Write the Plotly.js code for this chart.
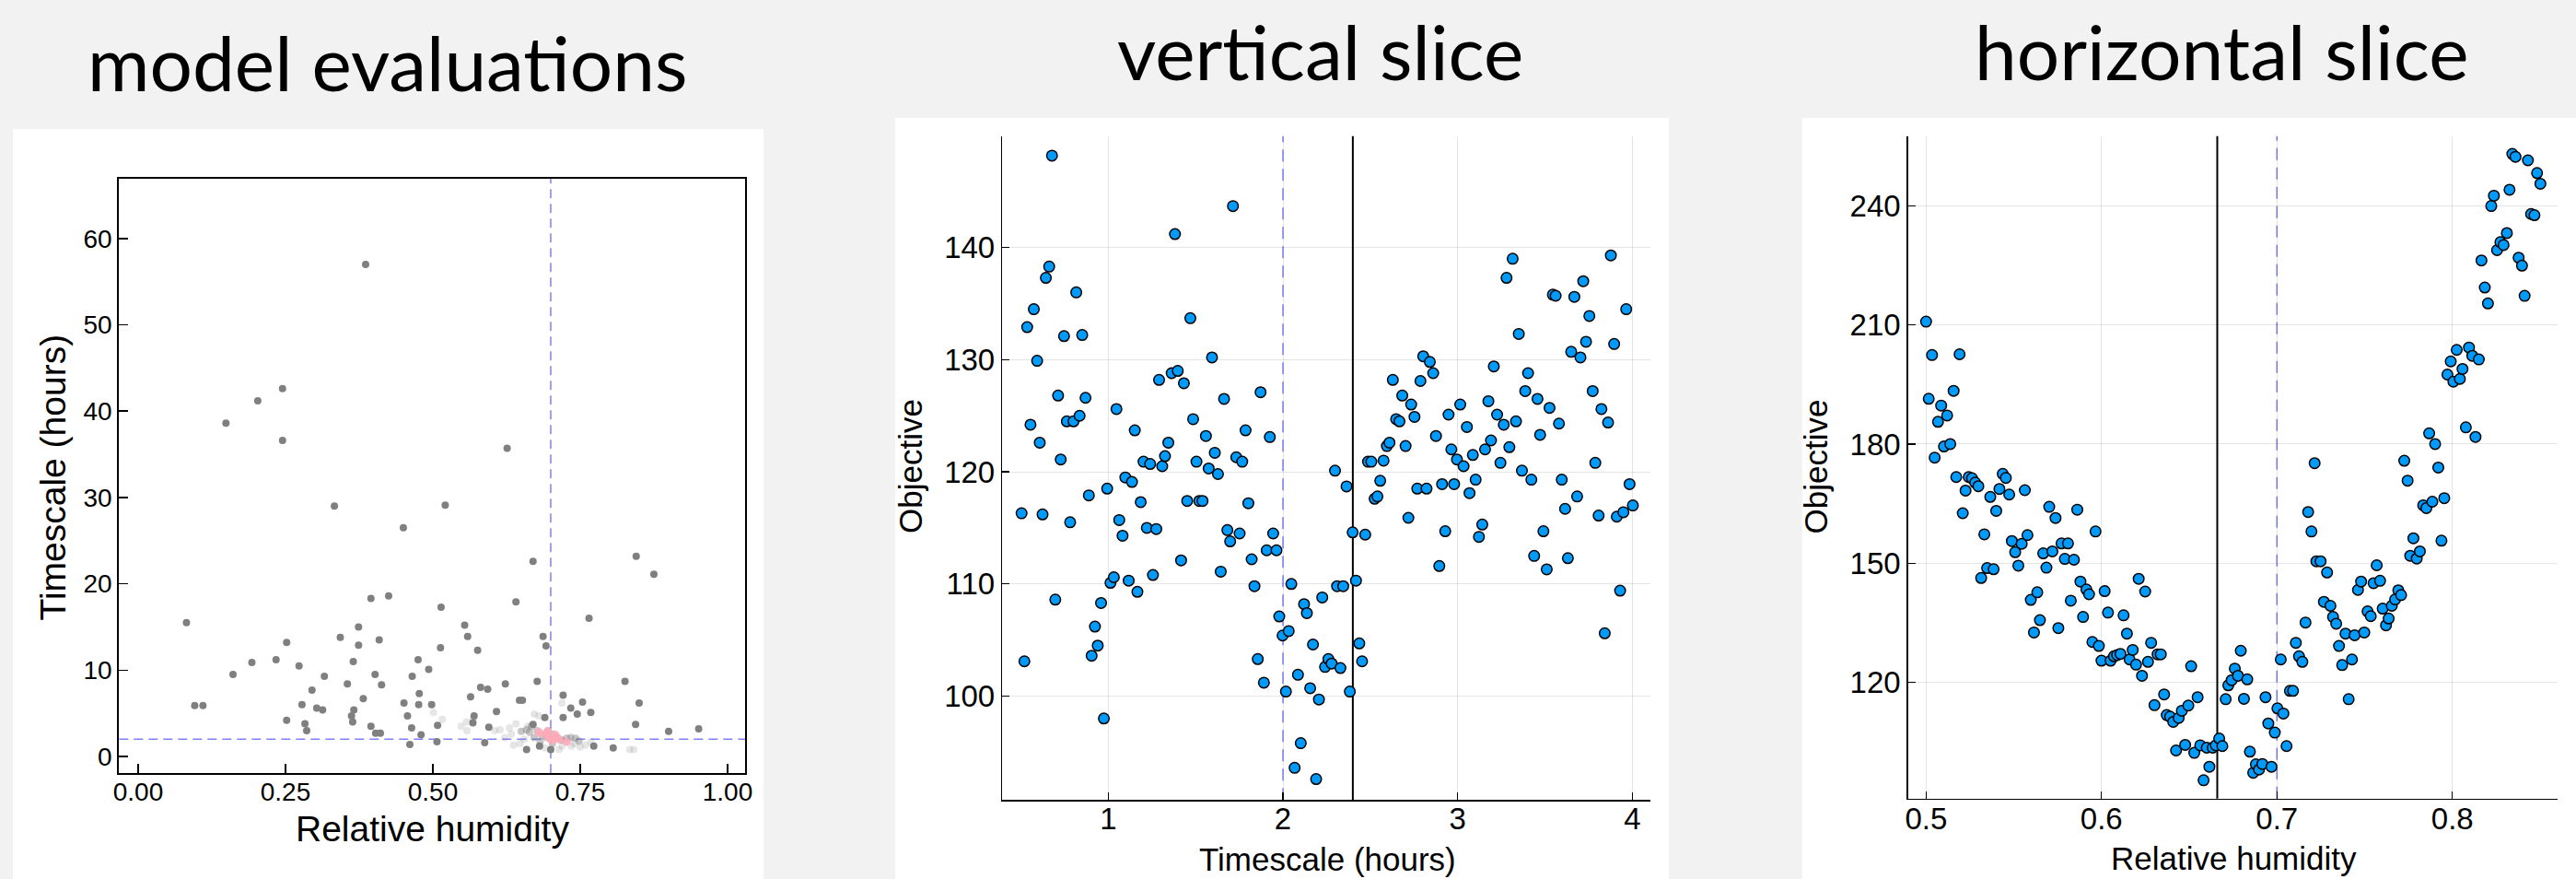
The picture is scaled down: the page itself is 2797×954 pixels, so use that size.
<!DOCTYPE html>
<html>
<head>
<meta charset="utf-8">
<script src="https://cdn.plot.ly/plotly-3.0.1.min.js"></script>
<style>html,body{margin:0;padding:0;background:#f2f2f2;}#chart{width:2797px;height:954px;}</style>
</head>
<body>
<div id="chart"></div>
<script>
// ---------- DATA ----------
// Panel 1: model evaluations (Relative humidity vs Timescale)
const evalHumidity = [0.386,0.245,0.203,0.149,0.245,0.626,0.333,0.521,0.450,0.670,0.845,0.875,0.395,0.425,0.641,0.514,0.082,0.765,0.554,0.374,0.343,0.559,0.409,0.252,0.687,0.374,0.692,0.513,0.576,0.193,0.234,0.365,0.475,0.273,0.493,0.161,0.402,0.316,0.465,0.677,0.826,0.355,0.413,0.623,0.581,0.593,0.295,0.477,0.721,0.564,0.382,0.647,0.652,0.754,0.850,0.451,0.278,0.476,0.498,0.096,0.110,0.303,0.313,0.366,0.734,0.608,0.768,0.745,0.362,0.457,0.570,0.690,0.721,0.252,0.364,0.283,0.568,0.844,0.670,0.508,0.395,0.464,0.595,0.951,0.286,0.900,0.403,0.411,0.480,0.507,0.588,0.461,0.659,0.773,0.806,0.681,0.700];
const evalTimescale = [57.0,42.6,41.2,38.6,36.6,35.7,29.0,29.1,26.5,22.6,23.2,21.1,18.3,18.6,17.9,17.3,15.5,16.0,15.2,15.0,13.8,13.9,13.5,13.2,13.9,12.9,12.8,12.6,12.3,10.9,11.2,11.0,11.2,10.5,10.1,9.5,9.5,9.3,9.3,8.7,8.7,8.4,8.3,8.4,8.0,7.8,7.7,7.3,7.1,6.9,6.7,6.5,6.5,6.3,6.2,6.2,6.0,6.0,6.0,5.9,5.9,5.6,5.4,5.4,5.6,5.2,5.1,4.9,4.7,4.7,4.7,4.5,4.5,4.2,4.0,3.8,3.9,3.7,3.7,3.6,3.5,3.3,3.4,3.2,3.0,2.9,2.7,2.7,2.5,1.7,1.6,1.4,0.8,1.2,1.0,1.2,0.8];
// faint (light) evaluations
const faintHumidity = [0.501,0.516,0.548,0.558,0.557,0.568,0.614,0.630,0.641,0.633,0.637,0.648,0.672,0.680,0.661,0.719,0.740,0.750,0.759,0.768,0.834,0.841,0.719,0.714,0.622,0.690,0.735,0.655,0.605];
const faintTimescale = [5.1,4.3,3.5,3.0,4.0,4.3,3.1,3.3,3.8,2.6,1.3,1.5,4.9,4.7,3.5,6.2,1.5,1.1,1.3,1.7,0.8,0.8,1.2,0.8,2.2,1.0,1.2,2.0,3.0];
// clustered evaluations near the optimum
const clusterHumidity = [0.667,0.677,0.685,0.693,0.703,0.711,0.719,0.727,0.734,0.742,0.672,0.682,0.664,0.703,0.659,0.650,0.695,0.748];
const clusterTimescale = [3.5,3.0,2.4,2.2,2.6,2.2,1.9,2.1,2.2,2.1,2.2,1.7,2.8,1.5,3.1,2.9,3.0,1.8];
// latest evaluations (pink)
const latestHumidity = [0.680,0.690,0.698,0.708,0.714,0.703,0.727,0.695,0.700];
const latestTimescale = [2.8,2.6,2.2,2.5,2.0,1.9,1.7,2.9,2.0];
const optimumHumidity = 0.7;
const optimumTimescale = 2.0;

// Panel 2: vertical slice (Timescale vs Objective)
const vTimescale = [0.504,0.520,0.536,0.555,0.574,0.593,0.608,0.624,0.643,0.662,
0.678,0.697,0.713,0.728,0.747,0.763,0.782,0.801,0.817,0.836,
0.851,0.870,0.889,0.905,0.924,0.940,0.959,0.975,0.994,1.013,
1.032,1.047,1.063,1.082,1.098,1.117,1.136,1.152,1.167,1.186,
1.202,1.221,1.240,1.256,1.275,1.291,1.309,1.325,1.344,1.363,
1.382,1.398,1.417,1.433,1.452,1.470,1.486,1.505,1.521,1.540,
1.559,1.575,1.594,1.610,1.628,1.644,1.663,1.682,1.698,1.714,
1.733,1.752,1.767,1.786,1.802,1.821,1.837,1.856,1.872,1.891,
1.907,1.925,1.944,1.963,1.979,1.998,2.017,2.033,2.048,2.067,
2.086,2.102,2.121,2.137,2.156,2.172,2.190,2.206,2.225,2.241,
2.260,2.279,2.298,2.310,2.329,2.345,2.364,2.383,2.399,2.418,
2.437,2.453,2.471,2.487,2.506,2.525,2.541,2.557,2.576,2.595,
2.610,2.629,2.648,2.667,2.683,2.702,2.718,2.734,2.753,2.769,
2.787,2.803,2.822,2.841,2.860,2.876,2.895,2.911,2.929,2.948,
2.964,2.980,2.996,3.015,3.034,3.053,3.068,3.087,3.103,3.122,
3.141,3.157,3.176,3.191,3.207,3.226,3.245,3.264,3.280,3.296,
3.315,3.334,3.350,3.368,3.387,3.403,3.422,3.438,3.457,3.472,
3.491,3.510,3.526,3.545,3.561,3.580,3.596,3.615,3.631,3.650,
3.668,3.684,3.703,3.719,3.735,3.754,3.773,3.788,3.807,3.823,
3.842,3.861,3.877,3.896,3.911,3.930,3.949,3.965,3.984,4.003];
const vObjective = [116.3,103.1,132.9,124.2,134.5,129.9,122.6,116.2,137.3,138.3,
148.2,108.6,126.8,121.1,132.1,124.5,115.5,124.5,136.0,125.0,
132.2,126.6,117.9,103.6,106.2,104.5,108.3,98.0,118.5,110.1,
110.6,125.6,115.7,114.3,119.5,110.3,119.1,123.7,109.3,117.3,
120.9,115.0,120.7,110.8,114.9,128.2,120.5,121.4,122.6,128.8,
141.2,129.0,112.1,127.9,117.4,133.7,124.7,120.9,117.4,117.4,
123.2,120.3,130.2,121.7,119.8,111.1,126.5,114.8,113.8,143.7,
121.3,114.5,120.9,123.7,117.2,112.2,109.8,103.3,127.1,101.2,
113.0,123.1,114.5,113.0,107.1,105.4,100.4,105.8,110.0,93.6,
101.9,95.8,108.2,107.4,100.7,104.6,92.6,99.7,108.8,102.6,
103.3,102.9,120.1,109.8,102.5,109.8,118.7,100.4,114.6,110.3,
104.7,103.1,114.4,120.9,120.9,117.6,117.8,119.2,121.0,122.3,
122.6,128.2,124.7,124.5,126.8,122.3,115.9,126.0,124.9,118.5,
128.1,130.3,118.5,129.8,128.8,123.2,111.6,118.9,114.7,125.1,
122.0,118.9,121.1,126.0,120.5,124.0,118.1,121.5,119.3,114.2,
115.3,122.0,126.3,122.8,129.4,125.1,120.8,124.2,137.3,122.2,
139.0,124.5,132.3,120.1,127.2,128.8,119.3,112.5,126.5,123.3,
114.7,111.3,125.7,135.8,135.7,124.3,119.3,116.7,112.3,130.7,
135.6,117.8,130.2,137.0,131.6,133.9,127.2,120.8,116.1,125.6,
105.6,124.4,139.3,131.4,116.0,109.4,116.4,134.5,118.9,117.0];
const vSliceTimescale = 2.4;

// Panel 3: horizontal slice (Relative humidity vs Objective)
const hHumidity = [0.5000,0.5015,0.5034,0.5049,0.5068,0.5086,0.5102,0.5120,0.5138,0.5157,
0.5172,0.5191,0.5209,0.5225,0.5243,0.5262,0.5280,0.5298,0.5314,0.5332,
0.5348,0.5366,0.5385,0.5400,0.5418,0.5437,0.5455,0.5474,0.5489,0.5508,
0.5526,0.5545,0.5563,0.5578,0.5597,0.5615,0.5634,0.5649,0.5668,0.5686,
0.5702,0.5720,0.5738,0.5754,0.5772,0.5791,0.5809,0.5825,0.5843,0.5862,
0.5880,0.5895,0.5914,0.5929,0.5948,0.5966,0.5985,0.6000,0.6018,0.6037,
0.6052,0.6071,0.6089,0.6108,0.6126,0.6145,0.6160,0.6178,0.6197,0.6212,
0.6231,0.6249,0.6265,0.6283,0.6302,0.6320,0.6338,0.6357,0.6372,0.6391,
0.6409,0.6425,0.6440,0.6458,0.6477,0.6495,0.6511,0.6529,0.6548,0.6563,
0.6582,0.6600,0.6615,0.6634,0.6652,0.6671,0.6689,0.6708,0.6723,0.6742,
0.6760,0.6778,0.6794,0.6812,0.6831,0.6846,0.6865,0.6880,0.6898,0.6917,
0.6935,0.6951,0.6969,0.6988,0.7003,0.7022,0.7037,0.7055,0.7074,0.7092,
0.7108,0.7126,0.7145,0.7163,0.7178,0.7197,0.7215,0.7225,0.7249,0.7268,
0.7286,0.7305,0.7320,0.7338,0.7354,0.7372,0.7391,0.7409,0.7428,0.7443,
0.7462,0.7480,0.7498,0.7517,0.7535,0.7551,0.7569,0.7588,0.7603,0.7622,
0.7637,0.7655,0.7674,0.7692,0.7708,0.7726,0.7745,0.7760,0.7778,0.7797,
0.7815,0.7834,0.7852,0.7868,0.7886,0.7902,0.7920,0.7938,0.7954,0.7972,
0.7991,0.8006,0.8025,0.8043,0.8058,0.8077,0.8095,0.8114,0.8132,0.8151,
0.8166,0.8185,0.8203,0.8222,0.8237,0.8255,0.8274,0.8292,0.8311,0.8326,
0.8342,0.8360,0.8378,0.8397,0.8412,0.8431,0.8449,0.8468,0.8483,0.8502];
const hObjective = [210.8,191.4,202.4,176.6,185.6,189.7,179.4,187.2,180.0,193.4,
171.7,202.6,162.6,168.3,171.7,171.4,170.3,169.4,146.3,157.3,
148.8,166.7,148.5,163.2,168.7,172.5,171.5,167.3,155.6,152.8,
149.4,154.9,168.4,157.1,140.8,132.6,142.7,135.7,152.5,148.9,
164.2,153.0,161.4,133.7,155.0,151.1,155.0,140.6,150.9,163.5,
145.4,136.5,143.4,142.2,130.2,158.0,129.2,125.5,143.0,137.6,
125.5,126.6,126.9,127.2,136.9,132.3,125.8,128.2,124.5,146.1,
121.7,142.9,125.2,130.0,114.3,127.1,127.1,117.0,111.8,111.4,
110.1,102.9,111.1,112.9,104.3,114.2,124.1,102.3,116.3,104.2,
95.4,103.6,98.8,103.6,104.2,105.9,104.0,115.8,119.3,120.6,
123.5,121.7,128.0,115.9,120.8,102.6,97.3,99.4,98.1,99.5,
116.3,109.7,98.8,107.4,113.5,125.8,112.2,104.0,117.9,117.9,
130.0,126.6,125.2,135.1,162.9,158.0,175.2,150.5,150.5,140.3,
147.7,139.3,136.5,134.8,129.2,124.4,132.3,115.8,125.8,131.9,
143.3,145.4,132.6,137.9,136.7,145.0,149.5,145.6,138.6,134.4,
136.1,139.3,140.9,143.2,142.0,175.8,170.8,151.9,156.3,151.2,
153.0,164.6,163.9,182.7,165.5,180.0,174.1,155.7,166.4,197.5,
200.8,195.7,203.7,196.4,198.9,184.2,204.3,202.2,181.8,201.3,
226.2,219.4,215.4,239.9,242.5,228.8,230.8,230.1,233.1,244.0,
253.0,252.3,226.9,224.9,217.3,251.4,237.9,237.6,248.2,245.5];
const hSliceHumidity = 0.666;

const panelTitles = ["model evaluations", "vertical slice", "horizontal slice"];
const axisLabels = {hum: "Relative humidity", time: "Timescale (hours)", obj: "Objective"};

// ---------- LAYOUT HELPERS ----------
const W = 2797, H = 954;
const px = v => v / W;
const py = v => 1 - v / H;

const TICKFONT = 'Liberation Sans, Arial, Helvetica, sans-serif';
const TITLEFONT = 'Lato, "Noto Sans", sans-serif';
const BLUE = '#009AFA';
const REFLINE = 'rgba(0,0,255,0.5)';

const traces = [
  {x: faintHumidity, y: faintTimescale, xaxis: 'x', yaxis: 'y', type: 'scatter', mode: 'markers',
   marker: {size: 8, color: 'rgba(128,128,128,0.2)'}, hoverinfo: 'skip', showlegend: false},
  {x: clusterHumidity, y: clusterTimescale, xaxis: 'x', yaxis: 'y', type: 'scatter', mode: 'markers',
   marker: {size: 8, color: 'rgba(128,128,128,0.45)'}, showlegend: false},
  {x: evalHumidity, y: evalTimescale, xaxis: 'x', yaxis: 'y', type: 'scatter', mode: 'markers',
   marker: {size: 8, color: '#808080'}, showlegend: false},
  {x: latestHumidity, y: latestTimescale, xaxis: 'x', yaxis: 'y', type: 'scatter', mode: 'markers',
   marker: {size: 9, color: 'rgba(255,170,185,0.9)'}, showlegend: false},
  {x: vTimescale, y: vObjective, xaxis: 'x2', yaxis: 'y2', type: 'scatter', mode: 'markers',
   marker: {size: 11.5, color: BLUE, line: {color: '#000', width: 1.5}}, showlegend: false},
  {x: hHumidity, y: hObjective, xaxis: 'x3', yaxis: 'y3', type: 'scatter', mode: 'markers',
   marker: {size: 11.5, color: BLUE, line: {color: '#000', width: 1.5}}, showlegend: false}
];

const axBase = {
  zeroline: false, showline: true, linecolor: '#000', ticks: 'inside', tickcolor: '#000',
  fixedrange: true
};
const ax1 = Object.assign({}, axBase, {mirror: true, linewidth: 2, ticklen: 10, tickwidth: 1.5, showgrid: false,
  tickfont: {family: TICKFONT, size: 28, color: '#000'}});
const ax23 = Object.assign({}, axBase, {mirror: false, linewidth: 1.5, ticklen: 8, tickwidth: 1.2, showgrid: true,
  gridcolor: 'rgba(0,0,0,0.1)', gridwidth: 1,
  tickfont: {family: TICKFONT, size: 33, color: '#000'}});

const layout = {
  width: W, height: H,
  margin: {l: 0, r: 0, t: 0, b: 0, pad: 0},
  paper_bgcolor: '#f2f2f2', plot_bgcolor: 'rgba(0,0,0,0)',
  showlegend: false,
  xaxis: Object.assign({}, ax1, {domain: [px(129.3), px(809.3)], range: [-0.0323, 1.0302], anchor: 'y',
    tick0: 0, dtick: 0.25, tickformat: '.2f', ticklabelstandoff: -6}),
  yaxis: Object.assign({}, ax1, {domain: [py(839.3), py(193.7)], range: [-1.95, 66.95], anchor: 'x',
    tick0: 0, dtick: 10, ticklabelstandoff: 0}),
  xaxis2: Object.assign({}, ax23, {domain: [px(1088.3), px(1792.3)], range: [0.3937, 4.105], anchor: 'y2',
    tick0: 0, dtick: 1, ticklabelstandoff: -9}),
  yaxis2: Object.assign({}, ax23, {domain: [py(868.3), py(147.7)], range: [90.73, 149.94], anchor: 'x2',
    tick0: 0, dtick: 10, ticklabelstandoff: 0}),
  xaxis3: Object.assign({}, ax23, {domain: [px(2071.7), px(2777)], range: [0.4897, 0.86], anchor: 'y3',
    tick0: 0, dtick: 0.1, ticklabelstandoff: -8}),
  yaxis3: Object.assign({}, ax23, {domain: [py(866.7), py(147.7)], range: [90.8, 257.5], anchor: 'x3',
    tick0: 0, dtick: 30, ticklabelstandoff: 0}),
  shapes: [
    {type: 'rect', xref: 'paper', yref: 'paper', x0: px(14), x1: px(829), y0: 0, y1: py(140),
     fillcolor: '#fff', line: {width: 0}, layer: 'below'},
    {type: 'rect', xref: 'paper', yref: 'paper', x0: px(972), x1: px(1812), y0: 0, y1: py(128),
     fillcolor: '#fff', line: {width: 0}, layer: 'below'},
    {type: 'rect', xref: 'paper', yref: 'paper', x0: px(1957), x1: 1, y0: 0, y1: py(128),
     fillcolor: '#fff', line: {width: 0}, layer: 'below'},
    {type: 'line', xref: 'x', yref: 'y domain', x0: optimumHumidity, x1: optimumHumidity, y0: 0, y1: 1,
     line: {color: REFLINE, width: 1.5, dash: '10px,6px'}, layer: 'below'},
    {type: 'line', xref: 'x domain', yref: 'y', x0: 0, x1: 1, y0: optimumTimescale, y1: optimumTimescale,
     line: {color: REFLINE, width: 1.5, dash: '10px,6px'}, layer: 'below'},
    {type: 'line', xref: 'x2', yref: 'y2 domain', x0: optimumTimescale, x1: optimumTimescale, y0: 0, y1: 1,
     line: {color: REFLINE, width: 1.5, dash: '13px,8px'}, layer: 'below'},
    {type: 'line', xref: 'x2', yref: 'y2 domain', x0: vSliceTimescale, x1: vSliceTimescale, y0: 0, y1: 1,
     line: {color: '#000', width: 2}, layer: 'below'},
    {type: 'line', xref: 'x3', yref: 'y3 domain', x0: hSliceHumidity, x1: hSliceHumidity, y0: 0, y1: 1,
     line: {color: '#000', width: 2}, layer: 'below'},
    {type: 'line', xref: 'x3', yref: 'y3 domain', x0: optimumHumidity, x1: optimumHumidity, y0: 0, y1: 1,
     line: {color: REFLINE, width: 1.5, dash: '13px,8px'}, layer: 'below'}
  ],
  annotations: [
    {text: panelTitles[0], xref: 'paper', yref: 'paper', x: px(421), y: py(66.7), xanchor: 'center', yanchor: 'middle',
     showarrow: false, font: {family: TITLEFONT, size: 82, color: '#000'}},
    {text: panelTitles[1], xref: 'paper', yref: 'paper', x: px(1433), y: py(55), xanchor: 'center', yanchor: 'middle',
     showarrow: false, font: {family: TITLEFONT, size: 82, color: '#000'}},
    {text: panelTitles[2], xref: 'paper', yref: 'paper', x: px(2412), y: py(55), xanchor: 'center', yanchor: 'middle',
     showarrow: false, font: {family: TITLEFONT, size: 82, color: '#000'}},
    {text: axisLabels.hum, xref: 'paper', yref: 'paper', x: px(469), y: py(899.1), xanchor: 'center', yanchor: 'middle',
     showarrow: false, font: {family: TICKFONT, size: 39, color: '#000'}},
    {text: axisLabels.time, xref: 'paper', yref: 'paper', x: px(56.5), y: py(518), xanchor: 'center', yanchor: 'middle',
     textangle: -90, showarrow: false, font: {family: TICKFONT, size: 39, color: '#000'}},
    {text: axisLabels.time, xref: 'paper', yref: 'paper', x: px(1441), y: py(932.9), xanchor: 'center', yanchor: 'middle',
     showarrow: false, font: {family: TICKFONT, size: 35, color: '#000'}},
    {text: axisLabels.obj, xref: 'paper', yref: 'paper', x: px(988.5), y: py(506.5), xanchor: 'center', yanchor: 'middle',
     textangle: -90, showarrow: false, font: {family: TICKFONT, size: 35, color: '#000'}},
    {text: axisLabels.hum, xref: 'paper', yref: 'paper', x: px(2425.3), y: py(931.9), xanchor: 'center', yanchor: 'middle',
     showarrow: false, font: {family: TICKFONT, size: 35, color: '#000'}},
    {text: axisLabels.obj, xref: 'paper', yref: 'paper', x: px(1971), y: py(506.5), xanchor: 'center', yanchor: 'middle',
     textangle: -90, showarrow: false, font: {family: TICKFONT, size: 35, color: '#000'}}
  ]
};

Plotly.newPlot('chart', traces, layout, {displayModeBar: false, staticPlot: true});
</script>
</body>
</html>
